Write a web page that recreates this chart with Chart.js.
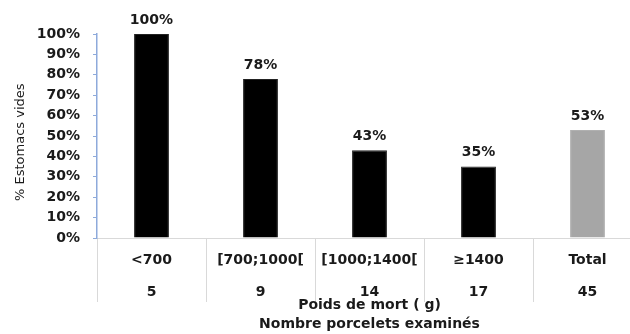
<!DOCTYPE html>
<html>
<head>
<meta charset="utf-8">
<script src="https://cdn.jsdelivr.net/npm/chart.js@4/dist/chart.umd.min.js"></script>
<style>
  html,body{margin:0;padding:0;background:#fff;overflow:hidden;width:630px;height:334px;}
  #wrap{width:646px;height:334px;}
</style>
</head>
<body>
<div id="wrap"><canvas id="c" width="646" height="334"></canvas></div>
<script>
const categories = ['<700', '[700;1000[', '[1000;1400[', '\u22651400', 'Total'];
const counts = [5, 9, 14, 17, 45];
const values = [100, 78, 43, 35, 53];
const yTicks = [0, 10, 20, 30, 40, 50, 60, 70, 80, 90, 100];
const barColors = ['#000000', '#000000', '#000000', '#000000', '#a6a6a6'];

const FONT = "'DejaVu Sans', sans-serif";
const TEXT = '#1a1a1a';

const labels = categories.map((c, i) => [c, String(counts[i])]);

const valueLabels = {
  id: 'valueLabels',
  afterDatasetsDraw(chart) {
    const ctx = chart.ctx;
    const meta = chart.getDatasetMeta(0);
    ctx.save();
    ctx.font = 'bold 14px ' + FONT;
    ctx.fillStyle = TEXT;
    ctx.textAlign = 'center';
    ctx.textBaseline = 'middle';
    meta.data.forEach((el, i) => {
      ctx.fillText(values[i] + '%', el.x, el.y - 14);
    });
    ctx.restore();
  }
};

new Chart(document.getElementById('c'), {
  type: 'bar',
  data: {
    labels: labels,
    datasets: [{
      data: values,
      backgroundColor: barColors,
      borderColor: barColors.map(c => c === '#000000' ? '#222222' : '#b0b0b0'),
      borderWidth: 1,
      categoryPercentage: 1,
      barPercentage: 0.32
    }]
  },
  options: {
    responsive: false,
    animation: false,
    devicePixelRatio: 1,
    layout: { padding: { left: 13, right: 4, top: 34, bottom: 0 } },
    plugins: { legend: { display: false }, tooltip: { enabled: false } },
    scales: {
      x: {
        grid: { offset: true, drawOnChartArea: false, drawTicks: true, tickLength: 64, color: '#d9d9d9' },
        border: { color: '#d9d9d9', width: 1 },
        ticks: {
          autoSkip: false, maxRotation: 0, minRotation: 0,
          padding: -58,
          color: TEXT,
          font: { family: FONT, size: 14, weight: 'bold', lineHeight: '32px' }
        },
        title: {
          display: true,
          text: ['Poids de mort ( g)', 'Nombre porcelets examin\u00e9s'],
          color: TEXT,
          padding: 0,
          font: { family: FONT, size: 14, weight: 'bold', lineHeight: '19px' }
        },
        afterFit(scale) { scale.height = 96; }
      },
      y: {
        min: 0, max: 100,
        afterBuildTicks(scale) { scale.ticks = yTicks.map(v => ({ value: v })); },
        grid: { drawOnChartArea: false, drawTicks: true, tickLength: 4, color: '#8eaadb' },
        border: { color: '#8eaadb', width: 1.5 },
        ticks: {
          padding: 13,
          color: TEXT,
          font: { family: FONT, size: 14, weight: 'bold' },
          callback: v => v + '%'
        },
        title: {
          display: true,
          text: '% Estomacs vides\u00a0\u00a0\u00a0',
          color: TEXT,
          padding: 0,
          font: { family: FONT, size: 13, weight: 'normal' }
        },
        afterFit(scale) { scale.width = 84; }
      }
    }
  },
  plugins: [valueLabels]
});
</script>
</body>
</html>
